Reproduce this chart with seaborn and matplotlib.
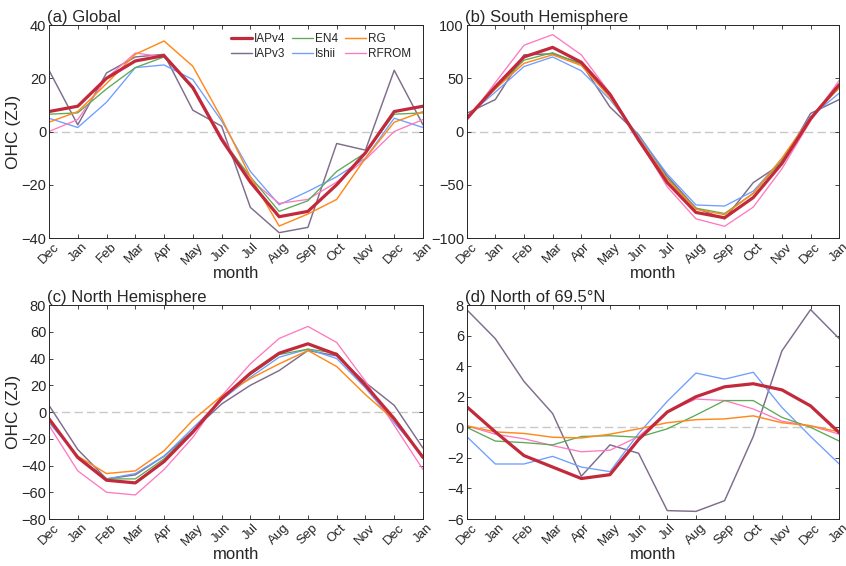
import numpy as np
import pandas as pd
import seaborn as sns
import matplotlib
matplotlib.use("Agg")
import matplotlib.pyplot as plt

months = ["Dec", "Jan", "Feb", "Mar", "Apr", "May", "Jun", "Jul", "Aug", "Sep", "Oct", "Nov", "Dec", "Jan"]
products = ["IAPv4", "EN4", "RG", "IAPv3", "Ishii", "RFROM"]

# (a) Global
glob_iapv4 = [7.5, 9.5, 20, 26.5, 28.5, 16.5, -3, -19, -32, -30, -20, -8, 7.5, 9.5]
glob_en4 = [6.5, 7, 16, 24, 28, 16, -3, -17, -30, -26, -15, -8, 6.5, 7]
glob_rg = [3.5, 7.5, 18, 29, 34, 24.5, 5, -17, -35.5, -31, -25.5, -10, 3.5, 7.5]
glob_iapv3 = [23, 2.5, 22, 28, 29, 8, 2, -28.5, -38, -36, -4.5, -7, 23, 2.5]
glob_ishii = [5, 1.5, 11, 24, 25, 19.5, 4, -15, -27.5, -22.5, -17, -10, 5, 1.5]
glob_rfrom = [0, 4.5, 20, 29.5, 28, 17, -2, -18, -27, -25.5, -19, -10.5, 0, 4.5]

# (b) South Hemisphere
sh_iapv4 = [12, 42, 70, 79, 65, 35, -8, -48, -76, -81, -62, -30, 12, 44]
sh_en4 = [13, 40, 67, 74, 63, 33, -6, -44, -72, -77, -58, -27, 13, 41]
sh_rg = [13, 40, 64, 72, 62, 32, -6, -45, -73, -78, -58, -25, 13, 41]
sh_iapv3 = [17, 30, 72, 73, 64, 23, -3, -42, -72, -82, -48, -30, 17, 30]
sh_ishii = [14, 37, 61, 70, 57, 30, -4, -40, -69, -70, -56, -26, 14, 36]
sh_rfrom = [10, 46, 81, 91, 72, 36, -7, -52, -82, -89, -71, -35, 10, 48]

# (c) North Hemisphere
nh_iapv4 = [-5, -34, -51, -53, -37, -15, 10, 29, 44, 51, 43, 20, -5, -34]
nh_en4 = [-6, -34, -50, -50, -35, -14, 10, 28, 43, 47, 44, 20, -6, -34]
nh_rg = [-6, -33, -46, -44, -29, -6, 12, 25, 36, 46, 34, 13, -6, -33]
nh_iapv3 = [5, -28, -50, -47, -33, -14, 6, 20, 31, 46, 42, 22, 5, -27]
nh_ishii = [-8, -33, -50, -46, -33, -12, 9, 26, 41, 47, 40, 18, -8, -33]
nh_rfrom = [-10, -44, -60, -62, -43, -19, 12, 36, 55, 64, 52, 23, -10, -43]

# (d) North of 69.5N
ar_iapv4 = [1.35, -0.3, -1.85, -2.6, -3.35, -3.1, -0.8, 1.0, 2.0, 2.65, 2.85, 2.45, 1.4, -0.35]
ar_en4 = [0.0, -0.9, -1.0, -1.15, -0.6, -0.55, -0.65, -0.1, 0.8, 1.75, 1.75, 0.65, 0.0, -0.9]
ar_rg = [0.1, -0.3, -0.4, -0.65, -0.7, -0.45, -0.1, 0.3, 0.5, 0.55, 0.75, 0.3, 0.1, -0.3]
ar_iapv3 = [7.7, 5.8, 3.0, 0.9, -3.2, -1.15, -1.7, -5.45, -5.5, -4.8, -0.6, 5.0, 7.7, 5.8]
ar_ishii = [-0.6, -2.4, -2.4, -1.9, -2.6, -2.9, -0.4, 1.7, 3.55, 3.15, 3.6, 1.3, -0.6, -2.4]
ar_rfrom = [0.1, -0.45, -0.75, -1.2, -1.6, -1.5, -0.6, 1.0, 1.85, 1.75, 1.2, 0.4, 0.1, -0.45]

panels = [
    ("(a) Global", [glob_iapv4, glob_en4, glob_rg, glob_iapv3, glob_ishii, glob_rfrom], (-40, 40), [-40, -20, 0, 20, 40]),
    ("(b) South Hemisphere", [sh_iapv4, sh_en4, sh_rg, sh_iapv3, sh_ishii, sh_rfrom], (-100, 100), [-100, -50, 0, 50, 100]),
    ("(c) North Hemisphere", [nh_iapv4, nh_en4, nh_rg, nh_iapv3, nh_ishii, nh_rfrom], (-80, 80), list(range(-80, 81, 20))),
    ("(d) North of 69.5\u00b0N", [ar_iapv4, ar_en4, ar_rg, ar_iapv3, ar_ishii, ar_rfrom], (-6, 8), list(range(-6, 9, 2))),
]

colors = {"IAPv4": "#c22a3b", "EN4": "#5caa57", "RG": "#ff8a1c",
          "IAPv3": "#7e6d8c", "Ishii": "#6f9eff", "RFROM": "#ff79c0"}
widths = {"IAPv4": 2.3, "EN4": 0.95, "RG": 1.05, "IAPv3": 1.05, "Ishii": 0.95, "RFROM": 0.95}
order = ["IAPv3", "Ishii", "RFROM", "EN4", "RG", "IAPv4"]

sns.set_style("ticks")
plt.rcParams["font.family"] = ["Liberation Sans", "DejaVu Sans"]
txt = "#262626"
plt.rcParams["text.color"] = txt
plt.rcParams["axes.labelcolor"] = txt
plt.rcParams["xtick.color"] = txt
plt.rcParams["ytick.color"] = txt

fig = plt.figure(figsize=(8.46, 5.66), dpi=100)
positions = [
    [0.0579, 0.5795, 0.4421, 0.3763],
    [0.5516, 0.5795, 0.4404, 0.3763],
    [0.0579, 0.0830, 0.4421, 0.3781],
    [0.5516, 0.0830, 0.4404, 0.3781],
]

x = np.arange(len(months))
for i, (title, series, ylim, yticks) in enumerate(panels):
    ax = fig.add_axes(positions[i])
    df = pd.DataFrame({"x": np.tile(x, len(products)),
                       "OHC": np.concatenate(series),
                       "product": np.repeat(products, len(months))})
    ax.axhline(0, color="#c8c8c8", lw=1.0, ls=(0, (6, 3)), zorder=0)
    for p in order:
        sub = df[df["product"] == p]
        sns.lineplot(data=sub, x="x", y="OHC", ax=ax, color=colors[p],
                     lw=widths[p], label=p if i == 0 else None, legend=False)
    ax.set_xlim(0, 13)
    ax.set_ylim(*ylim)
    ax.set_yticks(yticks)
    ax.set_xticks(x)
    ax.set_xticklabels(months, rotation=45, fontsize=9.5)
    ax.tick_params(axis="y", labelsize=10.5)
    ax.tick_params(direction="in", length=3, width=0.6, top=True, right=True, pad=2)
    for s in ax.spines.values():
        s.set_color("#262626")
        s.set_linewidth(0.7)
    ax.set_xlabel("month", fontsize=12, labelpad=-1)
    if i % 2 == 0:
        ax.set_ylabel("OHC (ZJ)", fontsize=12.5)
        ax.yaxis.set_label_coords(-0.074, 0.5)
    else:
        ax.set_ylabel("")
    ax.set_title(title, fontsize=12, loc="left", pad=2, x=-0.005)
    if i == 0:
        h, l = ax.get_legend_handles_labels()
        hd = dict(zip(l, h))
        leg_order = ["IAPv4", "IAPv3", "EN4", "Ishii", "RG", "RFROM"]
        ax.legend([hd[k] for k in leg_order], leg_order, ncol=3, loc="upper right",
                  frameon=False, fontsize=8.5, handlelength=1.8, handletextpad=0.15,
                  columnspacing=0.55, labelspacing=0.25, borderaxespad=0.3,
                  bbox_to_anchor=(0.99, 1.0))

fig.savefig("out.png", dpi=100)
